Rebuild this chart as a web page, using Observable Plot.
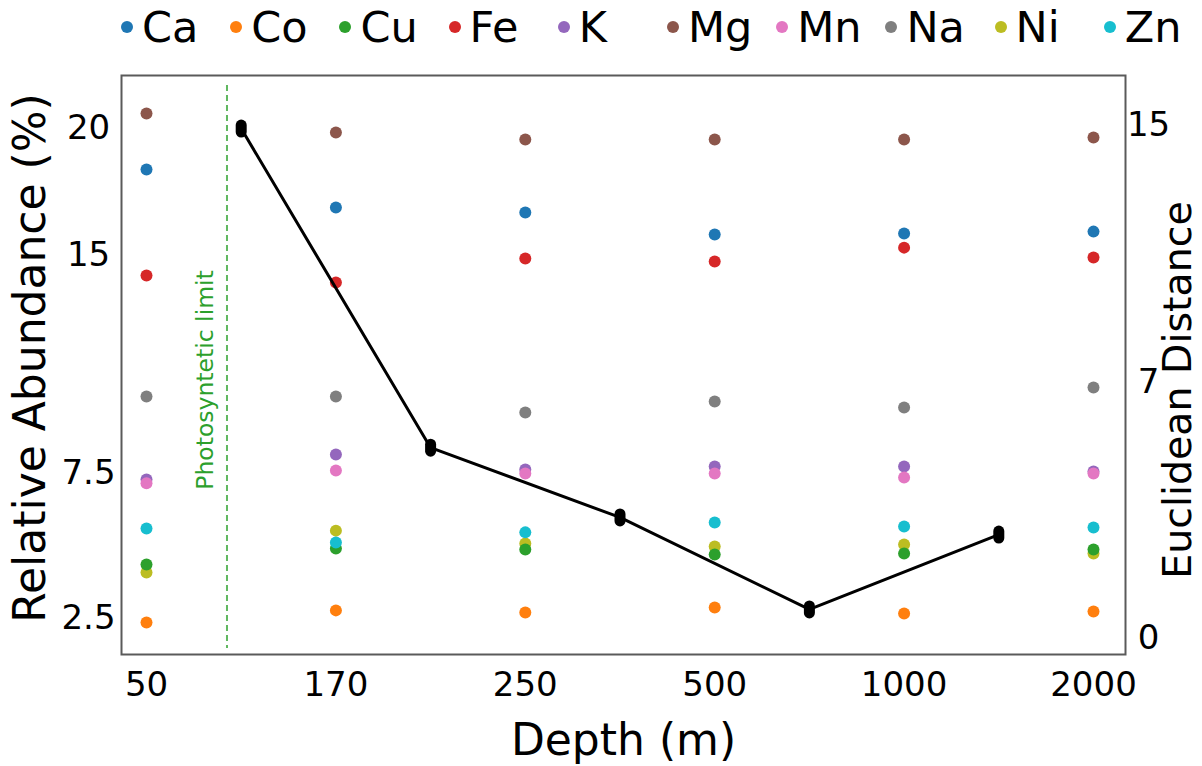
<!DOCTYPE html>
<html><head><meta charset="utf-8">
<script src="https://cdn.jsdelivr.net/npm/d3@7"></script>
<script src="https://cdn.jsdelivr.net/npm/@observablehq/plot@0.6"></script>
<style>
html,body{margin:0;padding:0;background:#fff;overflow:hidden;}
#wrap{position:relative;width:1202px;height:766px;font-family:"DejaVu Sans",sans-serif;}
#legend{position:relative;height:60px;}
.item{position:absolute;top:0;height:53px;display:flex;align-items:center;font-size:43px;color:#000;white-space:nowrap;}
.sw{width:12px;height:12px;border-radius:50%;margin-right:9px;flex:none;}
#chart{position:relative;height:706px;}
#chart svg{position:absolute;left:0;top:0;}
</style></head><body>
<div id="wrap"><div id="legend"></div><div id="chart"></div></div>
<script>
// ---- data ----
const depths = ["50", "170", "250", "500", "1000", "2000"];
const elements = ["Ca", "Co", "Cu", "Fe", "K", "Mg", "Mn", "Na", "Ni", "Zn"];
const colors = ["#1f77b4", "#ff7f0e", "#2ca02c", "#d62728", "#9467bd", "#8c564b", "#e377c2", "#7f7f7f", "#bcbd22", "#17becf"];
const Ca = [18.39, 16.89, 16.69, 15.83, 15.87, 15.94];
const Co = [2.36, 2.78, 2.71, 2.88, 2.67, 2.74];
const Cu = [4.36, 4.91, 4.88, 4.71, 4.74, 4.88];
const Fe = [14.31, 14.07, 14.90, 14.79, 15.31, 14.93];
const K  = [7.29, 8.15, 7.64, 7.74, 7.74, 7.57];
const Mg = [20.59, 19.84, 19.57, 19.57, 19.57, 19.65];
const Mn = [7.16, 7.60, 7.50, 7.50, 7.36, 7.50];
const Na = [10.15, 10.15, 9.60, 9.98, 9.77, 10.46];
const Ni = [4.09, 5.53, 5.09, 4.98, 5.05, 4.74];
const Zn = [5.60, 5.12, 5.47, 5.81, 5.67, 5.64];
// Euclidean distance between consecutive depths
const distance = [14.91, 5.58, 3.54, 0.85, 3.04];
// photosynthetic limit, in depth-category index units
const photicLimit = 0.425;
// tick labels
const absTicks = [2.5, 7.5, 15, 20];
const absLabels = ["2.5", "7.5", "15", "20"];
const distTicks = [0, 7.5, 15];
const distLabels = ["0", "7", "15"];

const series = {Ca, Co, Cu, Fe, K, Mg, Mn, Na, Ni, Zn};
const drawOrder = ["Ca", "Co", "Fe", "K", "Mg", "Mn", "Na", "Ni", "Cu", "Zn"];
const rows = drawOrder.flatMap(el => series[el].map((v, i) => ({element: el, i, value: v})));
const distRows = distance.map((v, i) => ({i: i + 0.5, value: v}));

// ---- legend ----
const legend = document.getElementById("legend");
elements.forEach((el, k) => {
  const it = document.createElement("div");
  it.className = "item";
  it.style.left = (121 + k * 109.2) + "px";
  const sw = document.createElement("span");
  sw.className = "sw";
  sw.style.background = colors[k];
  const tx = document.createElement("span");
  tx.textContent = el;
  it.appendChild(sw); it.appendChild(tx);
  legend.appendChild(it);
});

// ---- chart ----
const W = 1202, H = 706;
const common = {width: W, height: H, marginTop: 15, marginBottom: 112, marginLeft: 121, marginRight: 77};
const font = '"DejaVu Sans", sans-serif';
const xScale = {type: "linear", domain: [0, depths.length - 1], insetLeft: 25, insetRight: 32};

const main = Plot.plot({
  ...common,
  style: {fontFamily: font, background: "white"},
  x: xScale,
  y: {type: "linear", domain: absTicks, range: [558, 413, 195, 68]},
  color: {domain: elements, range: colors},
  marks: [
    Plot.frame({stroke: "#5a5a5a", strokeWidth: 2}),
    Plot.axisX(depths.map((d, i) => i), {tickSize: 0, tickPadding: 31, lineAnchor: "middle", fontSize: 34, tickFormat: i => depths[i], label: null}),
    Plot.axisY(absTicks, {tickSize: 0, tickPadding: 33, textAnchor: "middle", fontSize: 34, label: null,
      tickFormat: d => absLabels[absTicks.indexOf(d)]}),
    Plot.ruleX([photicLimit], {x: d => d, stroke: "#3aa63a", strokeOpacity: 0.8, strokeWidth: 2, strokeDasharray: "6,4", insetTop: 10, insetBottom: 6}),
    Plot.text(["Photosyntetic limit"], {x: photicLimit, frameAnchor: "middle", text: d => d, rotate: -90, dx: -22, dy: 15, fill: "#2ca02c", fontSize: 23.5, textAnchor: "middle", lineAnchor: "middle"}),
    Plot.dot(rows, {x: "i", y: "value", fill: "element", r: 6}),
    Plot.text(["Relative Abundance (%)"], {frameAnchor: "left", text: d => d, rotate: -90, dx: -91, dy: -7, fontSize: 44, textAnchor: "middle", lineAnchor: "middle"}),
    Plot.text(["Depth (m)"], {frameAnchor: "bottom", text: d => d, dy: 86, fontSize: 44, textAnchor: "middle", lineAnchor: "middle"}),
    Plot.text(["Euclidean Distance"], {frameAnchor: "right", text: d => d, rotate: -90, dx: 53, dy: 25, fontSize: 39.5, textAnchor: "middle", lineAnchor: "middle"})
  ]
});

const capsule = {draw(ctx) {
  const w = 5.5, h = 3.5;
  ctx.moveTo(w, -h);
  ctx.arc(0, -h, w, 0, Math.PI, true);
  ctx.lineTo(-w, h);
  ctx.arc(0, h, w, Math.PI, 0, true);
  ctx.closePath();
}};

const overlay = Plot.plot({
  ...common,
  style: {fontFamily: font, background: "transparent"},
  x: {...xScale, axis: null},
  y: {type: "linear", domain: [0, 15], range: [578, 65]},
  marks: [
    Plot.line(distRows, {x: "i", y: "value", stroke: "black", strokeWidth: 3}),
    Plot.dot(distRows, {x: "i", y: "value", symbol: capsule, fill: "black", stroke: "none"}),
    Plot.axisY(distTicks, {anchor: "right", tickSize: 0, tickPadding: 23, textAnchor: "middle", fontSize: 34, label: null,
      tickFormat: d => distLabels[distTicks.indexOf(d)]})
  ]
});

const chart = document.getElementById("chart");
chart.appendChild(main);
chart.appendChild(overlay);
</script>
</body></html>
